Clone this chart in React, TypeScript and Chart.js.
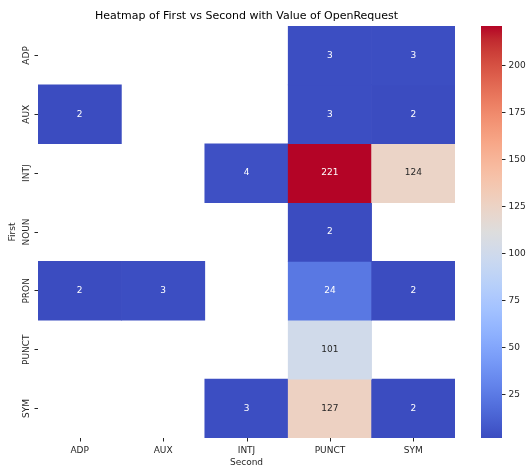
import React, { useEffect, useRef } from 'react';
import { Chart, registerables } from 'chart.js';

Chart.register(...registerables);
Chart.defaults.font.family = "'DejaVu Sans', sans-serif";
Chart.defaults.color = '#262626';

// Row ("First") and column ("Second") categories
const firstLabels = ['ADP', 'AUX', 'INTJ', 'NOUN', 'PRON', 'PUNCT', 'SYM'];
const secondLabels = ['ADP', 'AUX', 'INTJ', 'PUNCT', 'SYM'];

// OpenRequest values per row, one entry per Second column (null = empty cell)
const adpRow = [null, null, null, 3, 3];
const auxRow = [2, null, null, 3, 2];
const intjRow = [null, null, 4, 221, 124];
const nounRow = [null, null, null, 2, null];
const pronRow = [2, 3, null, 24, 2];
const punctRow = [null, null, null, 101, null];
const symRow = [null, null, 3, 127, 2];
const rowValues: (number | null)[][] = [adpRow, auxRow, intjRow, nounRow, pronRow, punctRow, symRow];

const colorbarTicks = [25, 50, 75, 100, 125, 150, 175, 200];

// coolwarm colormap, 33 evenly spaced stops
const coolwarmStops: [number, number, number][] = [
  [59, 76, 192], [68, 90, 204], [77, 104, 215], [87, 117, 225], [98, 130, 234],
  [108, 142, 241], [119, 154, 247], [130, 165, 251], [141, 176, 254], [152, 185, 255],
  [163, 194, 255], [174, 201, 253], [184, 208, 249], [194, 213, 244], [204, 217, 238],
  [213, 219, 230], [221, 221, 221], [229, 216, 209], [236, 211, 197], [241, 204, 184],
  [245, 196, 172], [247, 187, 160], [247, 177, 148], [247, 166, 135], [244, 154, 123],
  [241, 141, 111], [236, 127, 99], [229, 112, 88], [222, 96, 77], [213, 80, 66],
  [203, 62, 56], [192, 40, 47], [180, 4, 38],
];

const allValues = rowValues.flat().filter((v): v is number => v != null);
const vMin = Math.min(...allValues);
const vMax = Math.max(...allValues);

function coolwarmRGB(t: number): [number, number, number] {
  const c = Math.max(0, Math.min(1, t)) * (coolwarmStops.length - 1);
  const i = Math.min(Math.floor(c), coolwarmStops.length - 2);
  const f = c - i;
  const a = coolwarmStops[i];
  const b = coolwarmStops[i + 1];
  return [0, 1, 2].map((k) => Math.round(a[k] + (b[k] - a[k]) * f)) as [number, number, number];
}

function valueRGB(v: number) {
  return coolwarmRGB((v - vMin) / (vMax - vMin));
}

function rgbString(c: [number, number, number]) {
  return `rgb(${c[0]}, ${c[1]}, ${c[2]})`;
}

function luminance(c: [number, number, number]) {
  const lin = c.map((x) => {
    const s = x / 255;
    return s <= 0.03928 ? s / 12.92 : Math.pow((s + 0.055) / 1.055, 2.4);
  });
  return 0.2126 * lin[0] + 0.7152 * lin[1] + 0.0722 * lin[2];
}

const TICK_FONT = { family: "'DejaVu Sans', sans-serif", size: 9 };
const TICK_COLOR = '#262626';
const TICK_LEN = 3.5;

// Writes the value in each cell
const cellLabelPlugin = {
  id: 'cellLabels',
  afterDatasetsDraw(chart: any) {
    const ctx = chart.ctx;
    ctx.save();
    ctx.font = "9px 'DejaVu Sans', sans-serif";
    ctx.textAlign = 'center';
    ctx.textBaseline = 'middle';
    rowValues.forEach((row, r) => {
      const meta = chart.getDatasetMeta(r);
      row.forEach((v, c) => {
        if (v == null) return;
        const el = meta.data[c];
        if (!el) return;
        const cy = (el.y + el.base) / 2;
        ctx.fillStyle = luminance(valueRGB(v)) > 0.408 ? '#262626' : '#ffffff';
        ctx.fillText(String(v), el.x, cy);
      });
    });
    ctx.restore();
  },
};

// Rotated row labels on the left axis and tick marks under each column
const axisDecorPlugin = {
  id: 'axisDecor',
  afterDraw(chart: any) {
    const ctx = chart.ctx;
    const y = chart.scales.y;
    const x = chart.scales.x;
    const area = chart.chartArea;
    ctx.save();
    ctx.font = "9px 'DejaVu Sans', sans-serif";
    ctx.fillStyle = TICK_COLOR;
    ctx.textAlign = 'center';
    ctx.textBaseline = 'middle';
    firstLabels.forEach((lab, i) => {
      const py = y.getPixelForValue(i + 0.5);
      ctx.save();
      ctx.translate(26.5, py);
      ctx.rotate(-Math.PI / 2);
      ctx.fillText(lab, 0, 0);
      ctx.restore();
    });
    ctx.strokeStyle = TICK_COLOR;
    ctx.lineWidth = 1;
    ctx.beginPath();
    secondLabels.forEach((_, i) => {
      const px = Math.round(x.getPixelForValue(i)) + 0.5;
      ctx.moveTo(px, area.bottom);
      ctx.lineTo(px, area.bottom + TICK_LEN);
    });
    ctx.stroke();
    ctx.restore();
  },
};

export default function App() {
  const heatRef = useRef<HTMLCanvasElement>(null);
  const barRef = useRef<HTMLCanvasElement>(null);

  useEffect(() => {
    if (!heatRef.current || !barRef.current) return;

    const datasets = rowValues.map((row, r) => ({
      label: firstLabels[r],
      data: row.map((v) => (v == null ? null : [r, r + 1])),
      backgroundColor: row.map((v) => (v == null ? 'rgba(0,0,0,0)' : rgbString(valueRGB(v)))),
      borderWidth: 0,
      grouped: false,
      barPercentage: 1,
      categoryPercentage: 1,
    }));

    const heat = new Chart(heatRef.current, {
      type: 'bar',
      data: { labels: secondLabels, datasets: datasets as any },
      plugins: [cellLabelPlugin, axisDecorPlugin],
      options: {
        animation: false,
        responsive: false,
        layout: { padding: { left: 0, right: 5, top: 0, bottom: 0 } },
        plugins: {
          legend: { display: false },
          tooltip: { enabled: false },
          title: {
            display: true,
            text: 'Heatmap of First vs Second with Value of OpenRequest',
            fullSize: false,
            color: '#000000',
            font: { family: "'DejaVu Sans', sans-serif", size: 11, weight: 'normal' },
            padding: { top: 9.5, bottom: 3.3 },
          },
        },
        scales: {
          x: {
            type: 'category',
            offset: true,
            grid: { display: false, drawOnChartArea: false, drawTicks: false },
            border: { display: false },
            ticks: { font: TICK_FONT, color: TICK_COLOR, padding: 7.5, maxRotation: 0, minRotation: 0 },
            title: {
              display: true,
              text: 'Second',
              color: TICK_COLOR,
              font: TICK_FONT,
              padding: { top: 0, bottom: 0 },
            },
            afterFit: (s: any) => {
              s.height = 30;
            },
          },
          y: {
            type: 'linear',
            min: 0,
            max: firstLabels.length,
            reverse: true,
            grid: { drawOnChartArea: false, drawTicks: true, tickLength: TICK_LEN, color: TICK_COLOR },
            border: { display: false },
            ticks: { display: false },
            afterBuildTicks: (s: any) => {
              s.ticks = firstLabels.map((_, i) => ({ value: i + 0.5 }));
            },
            title: {
              display: true,
              text: 'First',
              color: TICK_COLOR,
              font: TICK_FONT,
              padding: { top: 7.6, bottom: 0 },
            },
            afterFit: (s: any) => {
              s.width = 38;
            },
          },
        },
      } as any,
    });

    const colorbar = new Chart(barRef.current, {
      type: 'bar',
      data: {
        labels: ['OpenRequest'],
        datasets: [
          {
            data: [[vMin, vMax]],
            borderWidth: 0,
            barPercentage: 1,
            categoryPercentage: 1,
            backgroundColor: (c: any) => {
              const { chart } = c;
              const area = chart.chartArea;
              if (!area) return rgbString(coolwarmStops[0]);
              const ys = chart.scales.y;
              const g = chart.ctx.createLinearGradient(0, ys.getPixelForValue(vMin), 0, ys.getPixelForValue(vMax));
              coolwarmStops.forEach((s, i) => g.addColorStop(i / (coolwarmStops.length - 1), rgbString(s)));
              return g;
            },
          },
        ] as any,
      },
      options: {
        animation: false,
        responsive: false,
        layout: { padding: { left: 21, right: 0, top: 26, bottom: 30 } },
        plugins: { legend: { display: false }, tooltip: { enabled: false } },
        scales: {
          x: { type: 'category', display: false, offset: true },
          y: {
            type: 'linear',
            position: 'right',
            min: vMin,
            max: vMax,
            grid: { drawOnChartArea: false, drawTicks: true, tickLength: TICK_LEN, color: TICK_COLOR },
            border: { display: false },
            ticks: { font: TICK_FONT, color: TICK_COLOR, padding: 3 },
            afterBuildTicks: (s: any) => {
              s.ticks = colorbarTicks.map((v) => ({ value: v }));
            },
            afterFit: (s: any) => {
              s.width = 27;
            },
          },
        },
      } as any,
    });

    return () => {
      heat.destroy();
      colorbar.destroy();
    };
  }, []);

  return (
    <div style={{ position: 'fixed', left: 0, top: 0, width: 529, height: 468, background: '#ffffff' }}>
      <canvas
        ref={heatRef}
        width={460}
        height={468}
        style={{ position: 'absolute', left: 0, top: 0, width: 460, height: 468 }}
      />
      <canvas
        ref={barRef}
        width={69}
        height={468}
        style={{ position: 'absolute', left: 460, top: 0, width: 69, height: 468 }}
      />
    </div>
  );
}
